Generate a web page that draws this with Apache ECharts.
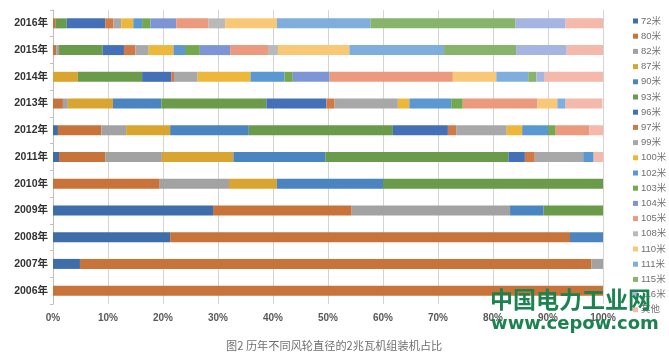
<!DOCTYPE html>
<html><head><meta charset="utf-8">
<script src="https://cdn.jsdelivr.net/npm/echarts@6/dist/echarts.min.js"></script>
<style>html,body{margin:0;padding:0;background:#fff}#c{width:669px;height:355px}</style>
</head><body><div id="c"></div>
<script>
const years = ['2006年','2007年','2008年','2009年','2010年','2011年','2012年','2013年','2014年','2015年','2016年'];
const xTicks = [0,10,20,30,40,50,60,70,80,90,100];
const seriesNames = ['72米','80米','82米','87米','90米','93米','96米','97米','99米','100米','102米','103米','104米','105米','108米','110米','111米','115米','116米','其他'];
// values per year, 2006..2016 (percent)
const v72  = [0, 4.9, 21.3, 29.1, 0, 1.1, 0.9, 0, 0, 0, 0];
const v80  = [100, 93, 72.7, 25.2, 19.4, 8.4, 7.9, 1.8, 0, 0.6, 0.5];
const v82  = [0, 2.1, 0, 28.8, 12.6, 10.3, 4.5, 0.9, 0, 0.5, 0];
const v87  = [0, 0, 0, 0, 8.7, 13, 8, 8.2, 4.5, 0, 0];
const v90  = [0, 0, 6, 6.1, 19.3, 16.7, 14.3, 8.8, 0, 0, 0];
const v93  = [0, 0, 0, 10.9, 40, 33.3, 26.2, 19.1, 11.7, 7.9, 2];
const v96  = [0, 0, 0, 0, 0, 3, 10, 10.9, 5.3, 3.9, 7];
const v97  = [0, 0, 0, 0, 0, 1.8, 1.5, 1.5, 0.5, 2.1, 1.5];
const v99  = [0, 0, 0, 0, 0, 8.8, 9.2, 11.5, 4.3, 2.4, 1.4];
const v100 = [0, 0, 0, 0, 0, 0, 2.8, 2.1, 9.6, 4.5, 2.2];
const v102 = [0, 0, 0, 0, 0, 1.9, 4.7, 7.6, 6.2, 2.1, 1.6];
const v103 = [0, 0, 0, 0, 0, 0, 1.4, 2.1, 1.5, 2.7, 1.5];
const v104 = [0, 0, 0, 0, 0, 0, 0, 0, 6.7, 5.5, 4.7];
const v105 = [0, 0, 0, 0, 0, 0, 6.1, 13.6, 22.4, 6.9, 5.9];
const v108 = [0, 0, 0, 0, 0, 0, 0, 0, 0, 1.8, 3];
const v110 = [0, 0, 0, 0, 0, 0, 0, 3.6, 7.9, 13, 9.4];
const v111 = [0, 0, 0, 0, 0, 0, 0, 1.5, 5.8, 17.2, 17];
const v115 = [0, 0, 0, 0, 0, 0, 0, 0, 1.5, 13.1, 26.4];
const v116 = [0, 0, 0, 0, 0, 0, 0, 0, 1.5, 9.2, 9.1];
const vOther = [0, 0, 0, 0, 0, 1.7, 2.5, 6.7, 10.8, 6.6, 6.9];
const allValues = [v72,v80,v82,v87,v90,v93,v96,v97,v99,v100,v102,v103,v104,v105,v108,v110,v111,v115,v116,vOther];
const colors = ['#3E6EAA','#C8733A','#A2A2A2','#D9A530','#4A85C2','#6A9B4A','#4470B8','#D27A45','#A8A8A8','#EDB83A','#5B97D0','#73A851','#7D95D4','#EC9A7E','#B9B9B9','#F8C877','#7FAEDD','#86B46A','#A5B4E0','#F4B9AA'];

const chart = echarts.init(document.getElementById('c'));
chart.setOption({
  animation: false,
  color: colors,
  textStyle: { fontFamily: 'Arial, "Liberation Sans", "Noto Sans CJK SC", sans-serif' },
  grid: { left: 53, right: 66, top: 10, bottom: 51 },
  legend: {
    orient: 'vertical', left: 628, top: 11,
    icon: 'rect', itemWidth: 5, itemHeight: 5, itemGap: 5.2,
    textStyle: { fontSize: 9.5, color: '#707070', lineHeight: 10, padding: [0,0,0,-2] },
    data: seriesNames
  },
  xAxis: {
    type: 'value', min: 0, max: 100, interval: 10,
    axisLine: { show: false }, axisTick: { show: false },
    splitLine: { lineStyle: { color: '#D4D4D4', width: 1 } },
    axisLabel: { formatter: v => v + '%', fontSize: 10, color: '#595959', fontWeight: 'bold', margin: 9 }
  },
  yAxis: {
    type: 'category', data: years,
    axisLine: { show: true, lineStyle: { color: '#BFBFBF' } },
    axisTick: { show: true, length: 3, lineStyle: { color: '#BFBFBF' } },
    axisLabel: { fontSize: 10.5, color: '#333', fontWeight: 'bold', margin: 5 }
  },
  series: seriesNames.map((n, i) => ({
    name: n, type: 'bar', stack: 'total', barWidth: 10,
    data: allValues[i]
  })),
  graphic: [
    { type: 'text', left: 226, top: 340, z: 10,
      style: { text: '图2 历年不同风轮直径的2兆瓦机组装机占比', fontSize: 11.2, fill: '#707070', fontFamily: '"Noto Sans CJK SC", sans-serif' } },
    { type: 'text', left: 490, top: 288, z: 100,
      style: { text: '中国电力工业网', fontSize: 23, fontWeight: 'bold', fill: '#1A8350', fontFamily: '"Noto Sans CJK SC", sans-serif' } },
    { type: 'text', left: 491, top: 315, z: 100,
      style: { text: 'www.cepow.com', fontSize: 18, fontWeight: 'bold', fill: '#1A8350', fontFamily: '"DejaVu Sans", sans-serif' } }
  ]
});
</script></body></html>
